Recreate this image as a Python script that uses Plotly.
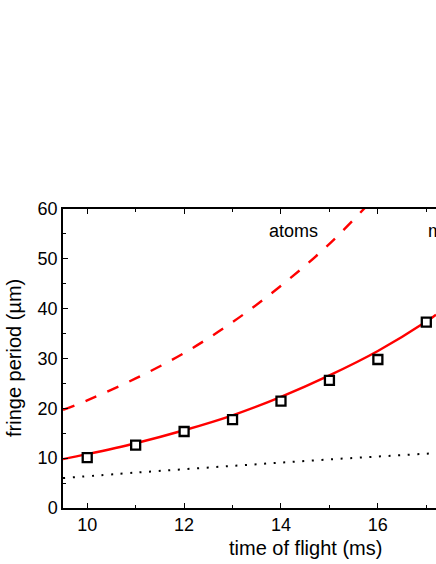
import plotly.graph_objects as go

# measured fringe period vs time of flight
tof_data = [10, 11, 12, 13, 14, 15, 16, 17]
period_data = [10.1, 12.6, 15.35, 17.75, 21.45, 25.6, 29.8, 37.3]

# fitted curve through the data (solid red)
fit_tof = [9.5, 10, 11, 12, 13, 14, 15, 16, 17, 17.2]
fit_period = [9.8, 10.8, 13.0, 15.6, 18.6, 22.3, 26.6, 31.5, 37.4, 38.8]

# "atoms" curve (dashed red)
atoms_tof = [9.5, 10, 11, 12, 13, 14, 15, 16]
atoms_period = [19.7, 21.6, 26.0, 31.1, 37.3, 44.6, 53.0, 63.0]

# dotted reference line
ref_tof = [9.5, 11, 13, 15, 17.2]
ref_period = [6.0, 7.1, 8.45, 9.75, 11.0]

FONT = "Liberation Sans, Arial, sans-serif"
W, H = 436, 564
L, T, B = 63, 209, 56

fig = go.Figure()

fig.add_trace(go.Scatter(
    x=ref_tof, y=ref_period, mode="lines", line_shape="spline",
    line=dict(color="black", width=2, dash="2px,7.6px"),
))
fig.add_trace(go.Scatter(
    x=atoms_tof, y=atoms_period, mode="lines", line_shape="spline",
    line=dict(color="#ff0000", width=2.4, dash="12px,12px"),
))
fig.add_trace(go.Scatter(
    x=fit_tof, y=fit_period, mode="lines", line_shape="spline",
    line=dict(color="#ff0000", width=2.4),
))
fig.add_trace(go.Scatter(
    x=tof_data, y=period_data, mode="markers", cliponaxis=False,
    marker=dict(symbol="square", size=9, color="white",
                line=dict(color="black", width=2.3)),
))

axis_common = dict(
    showgrid=False, zeroline=False,
    showline=True, linecolor="black", linewidth=1.5,
    ticks="inside", ticklen=5, tickwidth=1.2, tickcolor="black",
    tickfont=dict(family=FONT, size=18, color="black"),
)

fig.update_xaxes(
    range=[9.5, 17.2], tickvals=[10, 12, 14, 16], mirror="ticks",
    minor=dict(ticks="inside", ticklen=3, tickwidth=1.2, tickcolor="black",
               tickvals=[11, 13, 15, 17]),
    **axis_common,
)
fig.update_yaxes(
    range=[0, 60], tickvals=[0, 10, 20, 30, 40, 50, 60],
    minor=dict(ticks="inside", ticklen=3, tickwidth=1.2, tickcolor="black",
               tickvals=[5, 15, 25, 35, 45, 55]),
    **axis_common,
)

fig.update_layout(
    width=W, height=H,
    margin=dict(l=L, r=0, t=T, b=B, pad=0),
    paper_bgcolor="white", plot_bgcolor="white",
    showlegend=False,
)

# axis titles placed in pixel terms via paper coords
pw, ph = W - L, H - T - B
for text, px, py, ang in [("time of flight (ms)", 305, 548, 0),
                          ("fringe period (µm)", 14, 358, -90)]:
    fig.add_annotation(
        text=text, showarrow=False,
        xref="paper", yref="paper",
        x=(px - L) / pw, y=(H - B - py) / ph,
        xanchor="center", yanchor="middle", textangle=ang,
        font=dict(family=FONT, size=20, color="black"),
    )

# curve labels (the second one runs off the right edge, as in the original)
fig.add_annotation(text="atoms", x=14.25, y=55.6, showarrow=False,
                   xanchor="center", yanchor="middle",
                   font=dict(family=FONT, size=18, color="black"))
fig.add_annotation(text="molecules", x=17.0, y=55.6, showarrow=False,
                   xanchor="left", yanchor="middle",
                   font=dict(family=FONT, size=18, color="black"))

# drop the browser's default body margin so the figure fills the window
fig.write_html(
    "out.html",
    config={"displayModeBar": False},
    post_script="document.body.style.margin='0';document.body.style.overflow='hidden';",
)
